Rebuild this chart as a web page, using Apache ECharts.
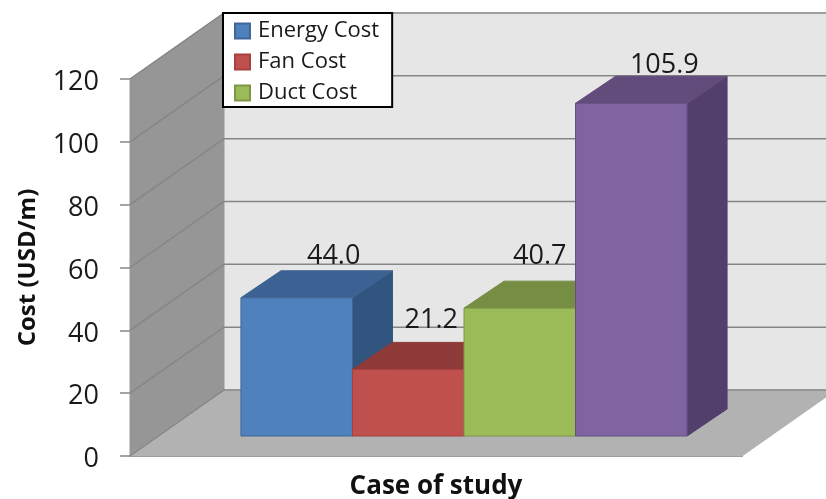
<!DOCTYPE html>
<html>
<head>
<meta charset="utf-8">
<style>
  html, body { margin: 0; padding: 0; background: #fff; }
  #chart { width: 826px; height: 499px; }
</style>
<script src="https://cdn.jsdelivr.net/npm/echarts@6/dist/echarts.min.js"></script>
</head>
<body>
<div id="chart"></div>
<script>
// chart data
const categories = ["Case of study"];
const seriesNames = ["Energy Cost", "Fan Cost", "Duct Cost", "Total Cost"];
const legendNames = ["Energy Cost", "Fan Cost", "Duct Cost"];
const costValues = [44.0, 21.2, 40.7, 105.9];
const yTicks = [0, 20, 40, 60, 80, 100, 120];

// face colors of each box: front, top, side, edge
const frontColors = ["#4f81bd", "#c0504d", "#9bbb59", "#8064a2"];
const topColors = ["#3c6293", "#8e3a38", "#758e43", "#624c7b"];
const sideColors = ["#325580", "#7c3230", "#66793a", "#533f6b"];
const edgeColors = ["#3f6797", "#a5413e", "#7d9647", "#654f82"];

// 3d look, in pixels
const wallDx = 94, wallDy = -66;
const boxShiftX = 28, boxShiftY = -20;
const boxDx = 40, boxDy = -27;
const barShare = 0.729 / 4;
const labelShift = [[37, -41], [23, -49], [20, -52], [33, -38]];
const font = "'Open Sans', sans-serif";

function poly(points, fill, stroke) {
  return {
    type: "polygon",
    shape: { points: points },
    style: { fill: fill, stroke: stroke || fill, lineWidth: 1 },
  };
}

// back wall, side wall, floor and the grid lines on them
function renderRoom(params, api) {
  const w = api.size([1, 0])[0];
  const bottom = api.coord([0, 0])[1];
  const top = api.coord([0, 120])[1];
  const left = api.coord([0, 0])[0] - w / 2;
  const right = left + w;
  return {
    type: "group",
    children: [
      poly([[left + wallDx, top + wallDy], [right + wallDx, top + wallDy], [right + wallDx, bottom + wallDy], [left + wallDx, bottom + wallDy]], "#e6e6e6"),
      poly([[left, top], [left + wallDx, top + wallDy], [left + wallDx, bottom + wallDy], [left, bottom]], "#969696"),
      poly([[left, bottom], [left + wallDx, bottom + wallDy], [right + wallDx, bottom + wallDy], [right, bottom]], "#b2b2b2"),
    ],
  };
}

function renderGridLine(params, api) {
  const w = api.size([1, 0])[0];
  const y = api.coord([0, api.value(1)])[1];
  const left = api.coord([0, 0])[0] - w / 2;
  return {
    type: "polyline",
    shape: { points: [[left, y], [left + wallDx, y + wallDy], [left + w + wallDx, y + wallDy]] },
    style: { fill: null, stroke: "#868686", lineWidth: 1.5 },
  };
}

function renderBox(i) {
  return function (params, api) {
    const w = api.size([1, 0])[0] * barShare;
    const mid = api.coord([api.value(0), 0])[0] + boxShiftX;
    const x0 = mid + (i - 2) * w;
    const x1 = x0 + w;
    const y0 = api.coord([0, 0])[1] + boxShiftY;
    const y1 = api.coord([0, api.value(1)])[1] + boxShiftY;
    return {
      type: "group",
      children: [
        poly([[x1, y1], [x1 + boxDx, y1 + boxDy], [x1 + boxDx, y0 + boxDy], [x1, y0]], sideColors[i]),
        poly([[x0, y1], [x0 + boxDx, y1 + boxDy], [x1 + boxDx, y1 + boxDy], [x1, y1]], topColors[i]),
        poly([[x0, y0], [x0, y1], [x1, y1], [x1, y0]], frontColors[i], edgeColors[i]),
      ],
    };
  };
}

function renderBoxLabel(params, api) {
  const i = api.value(2);
  const w = api.size([1, 0])[0] * barShare;
  const mid = api.coord([0, 0])[0] + boxShiftX + (i - 1.5) * w;
  const y1 = api.coord([0, api.value(1)])[1] + boxShiftY;
  return {
    type: "text",
    style: {
      text: api.value(1).toFixed(1),
      x: mid + labelShift[i][0],
      y: y1 + labelShift[i][1],
      align: "center",
      verticalAlign: "middle",
      fontSize: 27,
      fontFamily: font,
      fill: "#1a1a1a",
    },
  };
}

const boxSeries = seriesNames.map((name, i) => ({
  type: "custom",
  name: name,
  renderItem: renderBox(i),
  itemStyle: { color: frontColors[i], borderColor: edgeColors[i], borderWidth: 1 },
  data: [[0, costValues[i]]],
  z: 3,
}));

const chart = echarts.init(document.getElementById("chart"));
chart.setOption({
  animation: false,
  grid: { left: 130, top: 79, width: 612, height: 377, containLabel: false, outerBoundsMode: "none" },
  legend: {
    data: legendNames,
    orient: "vertical",
    left: 223,
    top: 13,
    icon: "rect",
    itemWidth: 15,
    itemHeight: 15,
    itemGap: 9,
    padding: [7, 13, 3, 11],
    backgroundColor: "#fff",
    borderColor: "#000",
    borderWidth: 2,
    borderRadius: 0,
    selectedMode: false,
    textStyle: { fontFamily: font, fontSize: 22, color: "#1a1a1a", padding: [0, 0, 0, 3], lineHeight: 22 },
    z: 10,
  },
  xAxis: {
    type: "category",
    data: categories,
    name: "Case of study",
    nameLocation: "middle",
    nameGap: 18,
    nameTextStyle: { fontFamily: font, fontWeight: "bold", fontSize: 26, color: "#111" },
    axisLine: { lineStyle: { color: "#868686", width: 2 } },
    axisTick: { show: false },
    axisLabel: { show: false },
    splitLine: { show: false },
  },
  yAxis: {
    type: "value",
    min: 0,
    max: 120,
    interval: 20,
    name: "Cost (USD/m)",
    nameLocation: "middle",
    nameGap: 90,
    nameTextStyle: { fontFamily: font, fontWeight: "bold", fontSize: 24, color: "#111" },
    axisLine: { show: false },
    axisTick: { show: true, length: 10, lineStyle: { color: "#868686", width: 1.5 } },
    axisLabel: { fontFamily: font, fontSize: 27, color: "#1a1a1a", margin: 31, verticalAlign: "top", padding: [-10, 0, 0, 0] },
    splitLine: { show: false },
  },
  series: [
    { type: "custom", renderItem: renderRoom, data: [[0, 0]], z: 1, silent: true },
    { type: "custom", renderItem: renderGridLine, data: yTicks.map((t) => [0, t]), z: 2, silent: true },
    ...boxSeries,
    {
      type: "custom",
      renderItem: renderBoxLabel,
      data: costValues.map((v, i) => [0, v, i]),
      z: 4,
      silent: true,
    },
  ],
});
</script>
</body>
</html>
